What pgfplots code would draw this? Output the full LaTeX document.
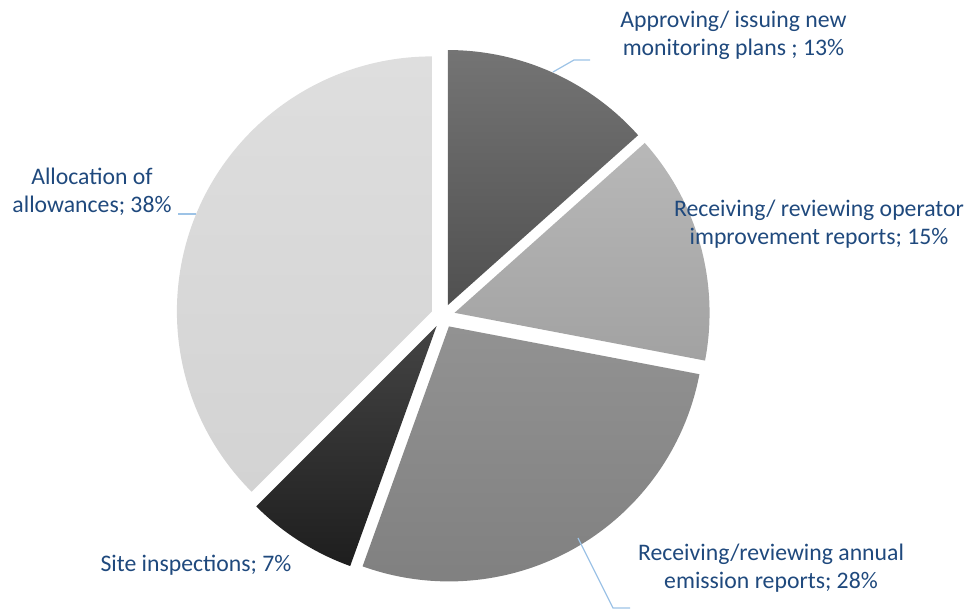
\documentclass[border=0pt]{standalone}
\usepackage{pgfplots}
\usepackage{pgfplotstable}
\usepackage{fontspec}
\setmainfont{Carlito}
\pgfplotsset{compat=1.18}
\definecolor{cAt}{HTML}{747474}\definecolor{cAb}{HTML}{505050}
\definecolor{cBt}{HTML}{B8B8B8}\definecolor{cBb}{HTML}{A2A2A2}
\definecolor{cCt}{HTML}{929292}\definecolor{cCb}{HTML}{808080}
\definecolor{cDt}{HTML}{444444}\definecolor{cDb}{HTML}{1E1E1E}
\definecolor{cEt}{HTML}{DEDEDE}\definecolor{cEb}{HTML}{D3D3D3}
\definecolor{lbl}{HTML}{1F497D}
\definecolor{lead}{HTML}{9DC3E6}
\pgfplotstableread{
value
13.4
14.6
27.5
7.0
37.5
}\piedata
\begin{document}
\begin{tikzpicture}
\begin{axis}[
  x=0.75pt, y=0.75pt,
  xmin=0, xmax=971, ymin=0, ymax=612,
  hide axis, clip=false,
]
\path (axis cs:0,0) rectangle (axis cs:971,612);
\pgfplotsextra{%
  \gdef\angstart{90}%
  \foreach \i/\col in {0/cA,1/cB,2/cC,3/cD,4/cE}{%
    \pgfplotstablegetelem{\i}{value}\of\piedata
    \pgfmathsetmacro\slice{3.6*\pgfplotsretval}%
    \pgfmathsetmacro\angend{\angstart-\slice}%
    \pgfmathsetmacro\amid{(\angstart+\angend)/2}%
    \shade[top color=\col t, bottom color=\col b] ([shift={(\amid:9pt)}]axis cs:443,296) -- ++(\angstart:191.25pt)
      arc[start angle=\angstart, end angle=\angend, radius=191.25pt] -- cycle;
    \xdef\angstart{\angend}%
  }%
}
% leader lines
\draw[lead, line width=0.9pt] (axis cs:553,540) -- (axis cs:574,552) -- (axis cs:590,552);
\draw[lead, line width=0.9pt] (axis cs:178,398) -- (axis cs:196,398);
\draw[lead, line width=0.9pt] (axis cs:578,74) -- (axis cs:613,4) -- (axis cs:630,4);
% labels
\begin{scope}[every node/.style={text=lbl, align=center, font=\fontsize{17.8}{20.8}\selectfont, inner sep=0pt}]
\node at (axis cs:733.5,577) {Approving/ issuing new\\monitoring plans ; 13\%};
\node at (axis cs:819,388) {Receiving/ reviewing operator\\improvement reports; 15\%};
\node at (axis cs:771,44) {Receiving/reviewing annual\\emission reports; 28\%};
\node at (axis cs:196,47) {Site inspections; 7\%};
\node at (axis cs:92,420) {Allocation of\\allowances; 38\%};
\end{scope}
\end{axis}
\end{tikzpicture}
\end{document}
